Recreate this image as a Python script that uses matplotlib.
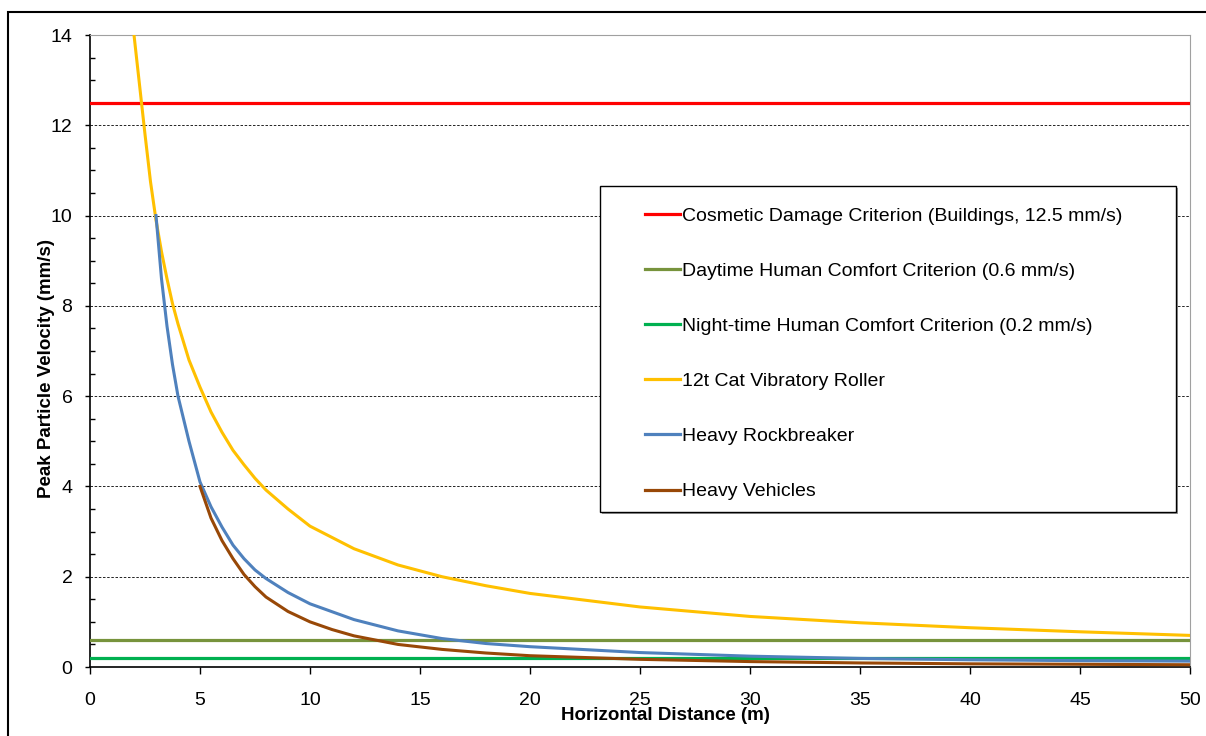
import matplotlib
matplotlib.use("Agg")
import matplotlib.pyplot as plt
import matplotlib.patches as mpatches

plt.rcParams["font.family"] = ["Liberation Sans", "DejaVu Sans"]

# ── Data ──────────────────────────────────────────────────────────────────────
dist_roller = [2.0, 2.25, 2.5, 2.75, 3, 3.25, 3.5, 3.75, 4, 4.5, 5, 5.5, 6, 6.5,
               7, 7.5, 8, 9, 10, 12, 14, 16, 18, 20, 25, 30, 35, 40, 45, 50]
ppv_roller = [14.0, 12.9, 11.8, 10.75, 9.9, 9.2, 8.6, 8.05, 7.6, 6.8, 6.2,
              5.65, 5.2, 4.8, 4.48, 4.18, 3.92, 3.5, 3.12, 2.62, 2.26, 2.0,
              1.8, 1.63, 1.33, 1.12, 0.98, 0.87, 0.78, 0.70]

dist_rock = [3, 3.25, 3.5, 3.75, 4, 4.5, 5, 5.5, 6, 6.5, 7, 7.5, 8, 9, 10,
             12, 14, 16, 18, 20, 25, 30, 35, 40, 45, 50]
ppv_rock = [10.0, 8.6, 7.55, 6.7, 6.0, 5.0, 4.1, 3.55, 3.1, 2.7, 2.4, 2.15,
            1.96, 1.65, 1.4, 1.05, 0.8, 0.63, 0.52, 0.45, 0.32, 0.24, 0.19,
            0.16, 0.14, 0.13]

dist_veh = [5, 5.5, 6, 6.5, 7, 7.5, 8, 9, 10, 11, 12, 14, 16, 18, 20,
            25, 30, 35, 40, 45, 50]
ppv_veh = [4.0, 3.3, 2.8, 2.4, 2.05, 1.78, 1.55, 1.23, 1.0, 0.83, 0.69, 0.5,
           0.39, 0.31, 0.25, 0.17, 0.12, 0.09, 0.07, 0.06, 0.05]

criteria = [12.5, 0.6, 0.2]
labels = ["Cosmetic Damage Criterion (Buildings, 12.5 mm/s)",
          "Daytime Human Comfort Criterion (0.6 mm/s)",
          "Night-time Human Comfort Criterion (0.2 mm/s)",
          "12t Cat Vibratory Roller",
          "Heavy Rockbreaker",
          "Heavy Vehicles"]

# ── Colours ───────────────────────────────────────────────────────────────────
RED = "#FF0000"; OLIVE = "#77933C"; GREEN = "#00B050"
GOLD = "#FFC000"; BLUE = "#4F81BD"; BROWN = "#984807"

W, H, DPI = 1206, 736, 100
AX_L, AX_R, AX_T, AX_B = 90, 1190, 35, 667        # plot area in pixels
AW, AH = AX_R - AX_L, AX_B - AX_T

def ax_x(px): return (px - AX_L) / AW
def ax_y(py): return (AX_B - py) / AH

fig = plt.figure(figsize=(W/DPI, H/DPI), dpi=DPI, facecolor="white")
ax = fig.add_axes([AX_L/W, 1-AX_B/H, AW/W, AH/H])

# outer chart border
fig.add_artist(mpatches.Rectangle((8/W, -0.05), 1.1, 1-12/H+0.05,
               transform=fig.transFigure, fill=False, ec="black", lw=1.5))

xs = [0, 50]
for val, col in zip(criteria, [RED, OLIVE, GREEN]):
    ax.plot(xs, [val, val], color=col, lw=2.3, zorder=3)
ax.plot(dist_roller, ppv_roller, color=GOLD, lw=2.2, zorder=4)
ax.plot(dist_rock, ppv_rock, color=BLUE, lw=2.2, zorder=4)
ax.plot(dist_veh, ppv_veh, color=BROWN, lw=2.2, zorder=4)

ax.set_xlim(0, 50)
ax.set_ylim(0, 14)
ax.set_xticks(range(0, 51, 5))
ax.set_yticks(range(0, 15, 2))
ax.set_yticks([v/2 for v in range(0, 29)], minor=True)
ax.tick_params(axis="both", labelsize=14, width=1, direction="out", colors="black")
ax.tick_params(axis="x", length=5, pad=13)
ax.tick_params(axis="y", length=3.6, pad=9)
ax.tick_params(axis="y", which="minor", direction="in", length=3.6, width=1)
ax.grid(axis="y", which="major", color="black", ls=(0, (3, 2)), lw=0.6, zorder=1)
ax.spines["top"].set_color("#A0A0A0")
ax.spines["right"].set_color("#A0A0A0")
ax.spines["left"].set_linewidth(1.2)
ax.spines["bottom"].set_linewidth(1.2)

ax.set_xlabel("Horizontal Distance (m)", fontsize=13.5, fontweight="bold")
ax.set_ylabel("Peak Particle Velocity (mm/s)", fontsize=13.5, fontweight="bold")
ax.xaxis.set_label_coords(ax_x(665), ax_y(707))
ax.yaxis.set_label_coords(ax_x(55), ax_y(368))

# legend box (drawn as a patch so it can be placed exactly)
ax.add_patch(mpatches.Rectangle((ax_x(602), ax_y(514)), 576/AW, 326/AH,
             transform=ax.transAxes, fc="#9A9A9A", ec="none", zorder=5))
ax.add_patch(mpatches.Rectangle((ax_x(600), ax_y(512)), 576/AW, 326/AH,
             transform=ax.transAxes, fc="white", ec="black", lw=1.0, zorder=5))

handles = [plt.Line2D([], [], color=c, lw=2.3)
           for c in [RED, OLIVE, GREEN, GOLD, BLUE, BROWN]]
leg = ax.legend(handles, labels, loc="upper left",
                bbox_to_anchor=(ax_x(645), ax_y(207)), fontsize=14,
                frameon=False, handlelength=1.8, handletextpad=0.08,
                labelspacing=1.93, borderpad=0, borderaxespad=0)
leg.set_zorder(6)

fig.savefig("out.png", dpi=DPI, facecolor="white")
